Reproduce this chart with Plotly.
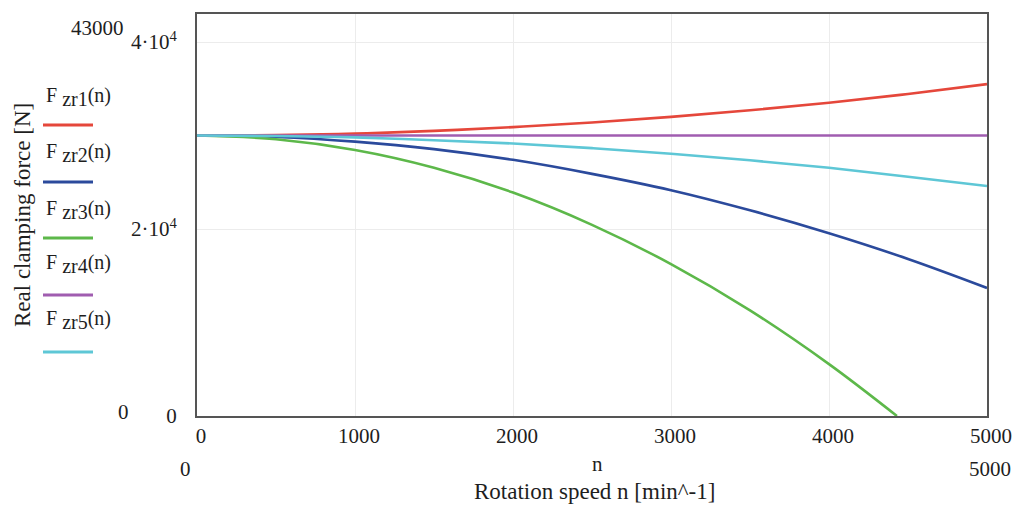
import plotly.graph_objects as go

# Rotation speed n [min^-1]
n_vals = [0, 500, 1000, 1500, 2000, 2500, 3000, 3500, 4000, 4500, 5000]
n_vals3 = [0, 500, 1000, 1500, 2000, 2500, 3000, 3500, 4000, 4430]

F_zr1 = [30000, 30050, 30200, 30500, 30900, 31400, 32000, 32700, 33500, 34450, 35500]
F_zr2 = [30000, 29850, 29350, 28550, 27400, 25900, 24150, 22000, 19550, 16800, 13700]
F_zr3 = [30000, 29600, 28450, 26550, 23900, 20450, 16250, 11300, 5550, 0]
F_zr4 = [30000, 30000, 30000, 30000, 30000, 30000, 30000, 30000, 30000, 30000, 30000]
F_zr5 = [30000, 29950, 29800, 29500, 29150, 28650, 28050, 27350, 26550, 25600, 24600]

names = ["zr1", "zr2", "zr3", "zr4", "zr5"]
colors = ["#e5473b", "#2b4a9c", "#5db84a", "#a05db0", "#5ec7d6"]

x_ticks = [0, 1000, 2000, 3000, 4000, 5000]
y_ticks = [0, 20000, 40000]
y_ticktext = ["0", "2·10<sup>4</sup>", "4·10<sup>4</sup>"]

FONT = "Liberation Serif, Times New Roman, serif"
FS = 21
FT = 23
TXT = "#1e1e1e"

fig = go.Figure()
series = [(n_vals, F_zr1), (n_vals, F_zr2), (n_vals3, F_zr3), (n_vals, F_zr4), (n_vals, F_zr5)]
for (xs, ys), nm, c in zip(series, names, colors):
    fig.add_trace(go.Scatter(x=xs, y=ys, mode="lines", name="F " + nm + "(n)",
                             line=dict(color=c, width=2.6, shape="spline"),
                             showlegend=False))

L, R, T, B = 197, 30, 14, 92
W, H = 1017, 508
pw, ph = W - L - R, H - T - B

def px2paper_x(px):
    return (px - L) / pw

def py2paper_y(py):
    return (H - B - py) / ph

fig.update_layout(
    width=W, height=H,
    margin=dict(l=L, r=R, t=T, b=B, autoexpand=False),
    paper_bgcolor="white", plot_bgcolor="white",
    font=dict(family=FONT, size=FS, color=TXT),
    xaxis=dict(range=[0, 5000], tickvals=x_ticks, ticks="", showline=True, mirror=True,
               linecolor="#555", linewidth=2, showgrid=True, gridcolor="#ececec", gridwidth=1,
               zeroline=False, tickfont=dict(family=FONT, size=FS, color=TXT),
               ticklabelstandoff=0, ticklabelshift=4, automargin=False),
    yaxis=dict(range=[0, 43000], tickvals=y_ticks, ticktext=y_ticktext, ticks="",
               showline=True, mirror=True, linecolor="#555", linewidth=2,
               showgrid=True, gridcolor="#ececec", gridwidth=1, zeroline=False,
               tickfont=dict(family=FONT, size=FS, color=TXT), ticklabelstandoff=14,
               automargin=False),
)

def note(px, py, text, xanchor="center", size=FS, angle=0):
    return dict(x=px2paper_x(px), y=py2paper_y(py), xref="paper", yref="paper",
                text=text, showarrow=False, xanchor=xanchor, yanchor="middle",
                textangle=angle, font=dict(family=FONT, size=size, color=TXT))

ann = [
    note(126, 28, "43000", "right"),
    note(131, 412, "0", "right"),
    note(185, 469, "0"),
    note(990, 469, "5000"),
    note(597, 464, "n"),
    note(594, 491, "Rotation speed n [min^-1]", size=FT),
    note(22, 215, "Real clamping force [N]", size=FT, angle=-90),
]

# custom legend
text_y = [97, 153, 210, 264, 320]
line_y = [125, 182, 238, 295, 352]
shapes = []
for nm, c, ty, ly in zip(names, colors, text_y, line_y):
    label = ("F <sub><span style='font-size:20px'>" + nm + "</span></sub>"
             "<span style='font-size:20px'>(n)</span>")
    ann.append(note(44, ty, label, "left", size=20))
    shapes.append(dict(type="line", xref="paper", yref="paper",
                       x0=px2paper_x(43), x1=px2paper_x(93),
                       y0=py2paper_y(ly), y1=py2paper_y(ly),
                       line=dict(color=c, width=3)))

fig.update_layout(annotations=ann, shapes=shapes)
fig.write_html("out.html")
